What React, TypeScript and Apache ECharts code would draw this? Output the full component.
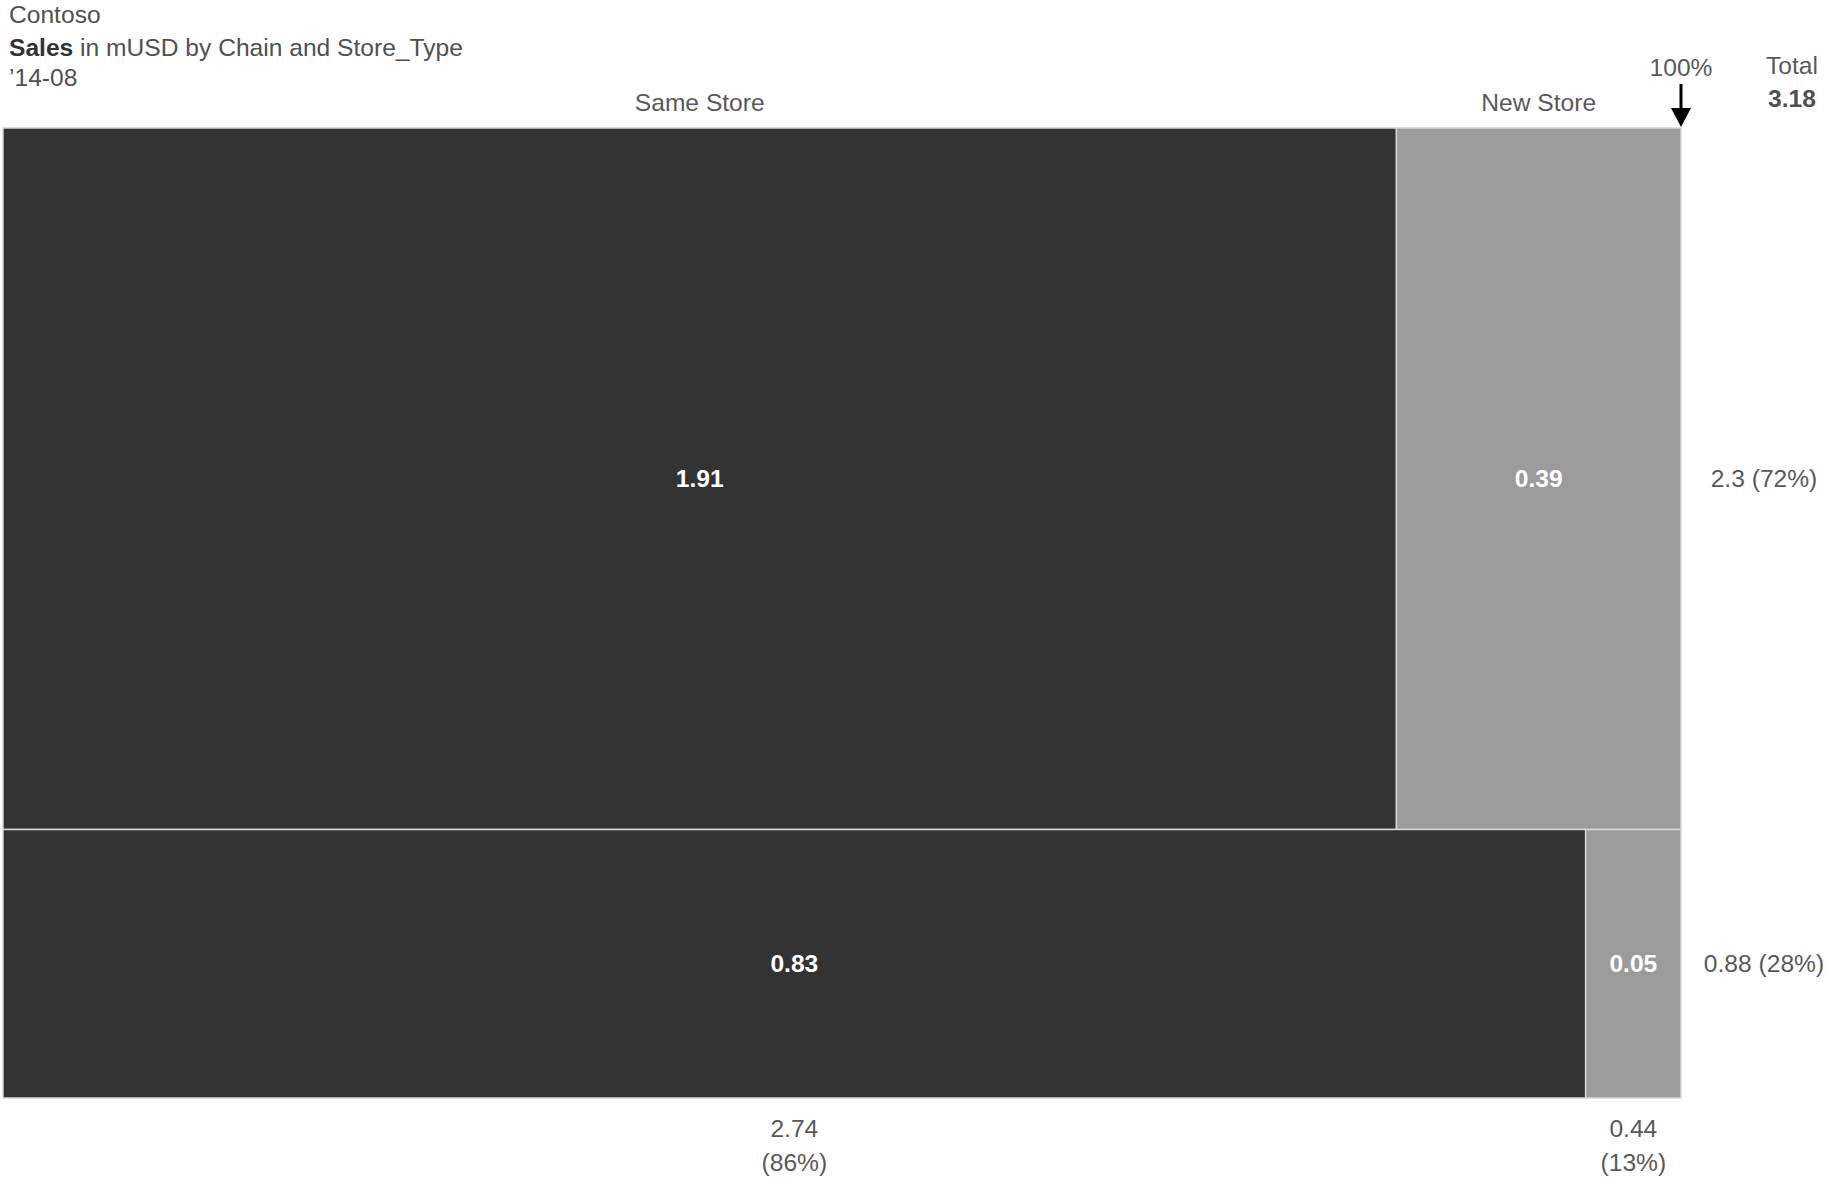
import React, { useEffect, useRef } from "react";
import * as echarts from "echarts";

// Sales in mUSD per chain (rows) split by store type (columns)
const storeTypes = ["Same Store", "New Store"];
const sameStoreSales = [1.91, 0.83];
const newStoreSales = [0.39, 0.05];
const chainTotals = [2.3, 0.88];
const chainShares = [72, 28];
const storeTypeTotals = [2.74, 0.44];
const storeTypeShares = [86, 13];
const grandTotal = 3.18;
const headerLines = ["Contoso", "Sales in mUSD by Chain and Store_Type", "\u201914-08"];

const storeColors = ["#333333", "#9a9b9a"];
const FONT = "'Liberation Sans', Arial, Helvetica, sans-serif";
const FS = 24.6;

const fmt = (v: number) => String(Number(v.toFixed(2)));

type Cell = { x0: number; x1: number; y0: number; y1: number; value: number; col: number };

// Mekko cells: row height = chain total, width within the row = store-type share
const cells: Cell[] = [];
{
  let yAcc = 0;
  chainTotals.forEach((total, r) => {
    const vals = [sameStoreSales[r], newStoreSales[r]];
    let xAcc = 0;
    vals.forEach((v, c) => {
      const w = v / total;
      cells.push({ x0: xAcc, x1: xAcc + w, y0: yAcc, y1: yAcc + total, value: v, col: c });
      xAcc += w;
    });
    yAcc += total;
  });
}
const topRow = cells.filter((c) => c.y0 === 0);
const bottomRow = cells.filter((c) => Math.abs(c.y1 - grandTotal) < 1e-9);

export default function App() {
  const ref = useRef<HTMLDivElement>(null);

  useEffect(() => {
    if (!ref.current) return;
    const chart = echarts.init(ref.current, null, { renderer: "svg" });

    const labelText = (text: string, x: number, y: number, extra: any = {}) => ({
      type: "text",
      x,
      y,
      style: {
        text,
        fill: "#595959",
        fontSize: FS,
        fontFamily: FONT,
        align: "center",
        verticalAlign: "middle",
        ...extra,
      },
    });

    const option: any = {
      animation: false,
      backgroundColor: "#ffffff",
      grid: { left: 3, top: 128, width: 1678, height: 970 },
      xAxis: { type: "value", min: 0, max: 1, show: false },
      yAxis: { type: "value", min: 0, max: grandTotal, inverse: true, show: false },
      graphic: [
        {
          type: "text",
          left: 9,
          top: 2,
          style: { text: headerLines[0], fill: "#505050", fontSize: FS, fontFamily: FONT },
        },
        {
          type: "text",
          left: 9,
          top: 35,
          style: {
            text: "{b|Sales}" + headerLines[1].slice(5),
            fill: "#505050",
            fontSize: FS,
            fontFamily: FONT,
            rich: {
              b: { fontWeight: "bold", fill: "#333333", fontSize: FS, fontFamily: FONT },
            },
          },
        },
        {
          type: "text",
          left: 9,
          top: 65,
          style: { text: headerLines[2], fill: "#505050", fontSize: FS, fontFamily: FONT },
        },
      ],
      series: [
        {
          type: "custom",
          name: "cells",
          coordinateSystem: "cartesian2d",
          data: cells.map((c) => [c.x0, c.x1, c.y0, c.y1, c.value, c.col]),
          renderItem: (_params: any, api: any) => {
            const p0 = api.coord([api.value(0), api.value(2)]);
            const p1 = api.coord([api.value(1), api.value(3)]);
            const col = api.value(5);
            return {
              type: "group",
              children: [
                {
                  type: "rect",
                  shape: { x: p0[0], y: p0[1], width: p1[0] - p0[0], height: p1[1] - p0[1] },
                  style: { fill: storeColors[col], stroke: "#d6d6d6", lineWidth: 1.5 },
                },
                labelText(fmt(api.value(4)), (p0[0] + p1[0]) / 2, (p0[1] + p1[1]) / 2, {
                  fill: "#ffffff",
                  fontWeight: "bold",
                }),
              ],
            };
          },
        },
        {
          type: "custom",
          name: "store types",
          coordinateSystem: "cartesian2d",
          data: topRow.map((c) => [(c.x0 + c.x1) / 2, c.y0]),
          renderItem: (params: any, api: any) => {
            const p = api.coord([api.value(0), api.value(1)]);
            return labelText(storeTypes[params.dataIndex], p[0], p[1] - 26);
          },
        },
        {
          type: "custom",
          name: "store type totals",
          coordinateSystem: "cartesian2d",
          data: bottomRow.map((c) => [(c.x0 + c.x1) / 2, c.y1]),
          renderItem: (params: any, api: any) => {
            const p = api.coord([api.value(0), api.value(1)]);
            const i = params.dataIndex;
            return {
              type: "group",
              children: [
                labelText(fmt(storeTypeTotals[i]), p[0], p[1] + 30),
                labelText("(" + storeTypeShares[i] + "%)", p[0], p[1] + 64),
              ],
            };
          },
        },
        {
          type: "custom",
          name: "chain totals",
          coordinateSystem: "cartesian2d",
          data: chainTotals.map((t, i) => {
            const y0 = chainTotals.slice(0, i).reduce((a, b) => a + b, 0);
            return [1, y0 + t / 2];
          }),
          renderItem: (params: any, api: any) => {
            const p = api.coord([api.value(0), api.value(1)]);
            const i = params.dataIndex;
            return labelText(
              fmt(chainTotals[i]) + " (" + chainShares[i] + "%)",
              p[0] + 83,
              p[1]
            );
          },
        },
        {
          type: "custom",
          name: "total",
          coordinateSystem: "cartesian2d",
          data: [[1, 0]],
          renderItem: (_params: any, api: any) => {
            const p = api.coord([api.value(0), api.value(1)]);
            const x = p[0];
            const top = p[1];
            return {
              type: "group",
              children: [
                labelText("100%", x, top - 61),
                {
                  type: "line",
                  shape: { x1: x, y1: top - 44, x2: x, y2: top - 14 },
                  style: { stroke: "#000000", lineWidth: 3 },
                },
                {
                  type: "polygon",
                  shape: {
                    points: [
                      [x - 10, top - 20],
                      [x + 10, top - 20],
                      [x, top - 1],
                    ],
                  },
                  style: { fill: "#000000" },
                },
                labelText("Total", x + 111, top - 63),
                labelText(fmt(grandTotal), x + 111, top - 30, {
                  fontWeight: "bold",
                  fill: "#505050",
                }),
              ],
            };
          },
        },
      ],
    };

    chart.setOption(option);
    return () => chart.dispose();
  }, []);

  return (
    <div
      ref={ref}
      style={{ position: "absolute", left: 0, top: 0, width: 1831, height: 1183 }}
    />
  );
}
